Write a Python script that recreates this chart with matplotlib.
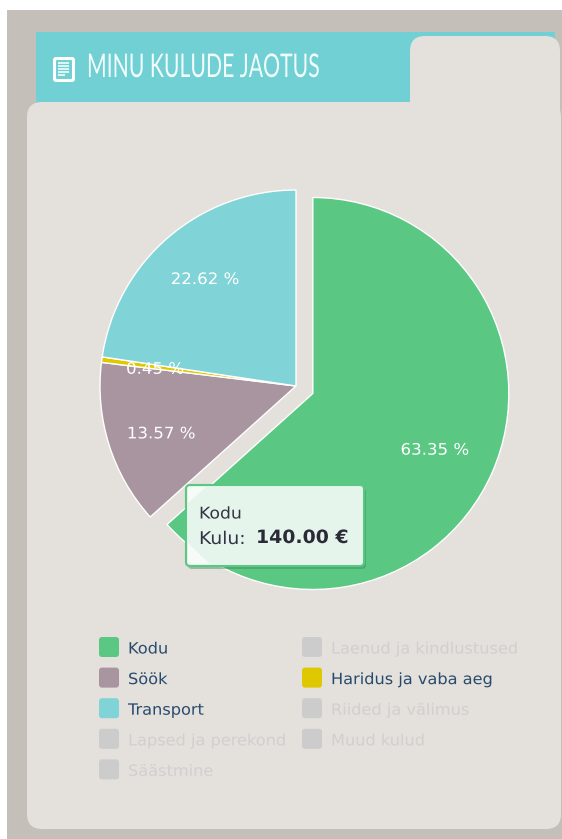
import matplotlib
matplotlib.use("Agg")
import matplotlib.pyplot as plt
from matplotlib.patches import FancyBboxPatch, Rectangle, Polygon
from matplotlib.patheffects import AbstractPathEffect
from matplotlib.transforms import Affine2D

# data (euro)
pie_names = ["Kodu", "Söök", "Haridus ja vaba aeg", "Transport"]
pie_values = [140, 30, 1, 50]
pie_colors = ["#5ac783", "#a895a0", "#e0c800", "#80d3d6"]
pie_explode = [18.4, 0, 0, 0]

legend_col1 = ["Kodu", "Söök", "Transport", "Lapsed ja perekond", "Säästmine"]
legend_col2 = ["Laenud ja kindlustused", "Haridus ja vaba aeg", "Riided ja välimus", "Muud kulud"]
legend_colors = {"Kodu": "#5ac783", "Söök": "#a895a0", "Transport": "#80d3d6", "Haridus ja vaba aeg": "#e0c800"}

W, H = 562, 839
BG_DARK = "#c4bfb9"
BG_PANEL = "#e4e0db"
TEAL = "#71d0d4"


class Stretch(AbstractPathEffect):
    # squeeze or widen a text sideways around one x position, no condensed font here
    def __init__(self, x0, sx):
        super().__init__()
        self.x0 = x0
        self.sx = sx

    def draw_path(self, renderer, gc, tpath, affine, rgbFace=None):
        t = affine + Affine2D().translate(-self.x0, 0).scale(self.sx, 1).translate(self.x0, 0)
        renderer.draw_path(gc, tpath, t, rgbFace)


def Y(py):
    # picture pixels count from the top
    return H - py


def box(ax, x0, y0, x1, y1, r, z=1, **kw):
    p = FancyBboxPatch((x0 + r, Y(y1) + r), x1 - x0 - 2 * r, y1 - y0 - 2 * r,
                       boxstyle="round,pad=%f,rounding_size=%f" % (r, r), zorder=z, **kw)
    ax.add_patch(p)
    return p


def wide_text(ax, x, py, s, sx, **kw):
    t = ax.text(x, Y(py), s, va="center", ha="left", **kw)
    t.set_path_effects([Stretch(x, sx)])
    return t


fig = plt.figure(figsize=(W / 100, H / 100), dpi=100, facecolor="white")
ax = fig.add_axes([0, 0, 1, 1])
ax.set_xlim(0, W)
ax.set_ylim(0, H)

# page background and panels
ax.add_patch(Rectangle((7, 0), W - 7, Y(10), fc=BG_DARK, ec="none", zorder=0))
ax.add_patch(Rectangle((36, Y(103)), 519, 71, fc=TEAL, ec="none", zorder=1))
box(ax, 410, 36, 560, 140, 15, z=2, fc=BG_PANEL, ec="none")
box(ax, 27, 102, 561, 829, 15, z=2, fc=BG_PANEL, ec="none")

# title
title = ax.text(87, Y(68), "MINU KULUDE JAOTUS", family=["Lato", "DejaVu Sans"],
                fontsize=23.5, color="#f2fcfc", va="center", ha="left", zorder=3)
fig.canvas.draw()
title_w = title.get_window_extent().width
title.set_path_effects([Stretch(87, 233 / title_w)])

# document icon
box(ax, 53, 57, 75, 82, 3, z=3, fc="white", ec="none")
box(ax, 56, 60, 72, 79, 1, z=4, fc=TEAL, ec="none")
for py, x1 in zip([63, 66, 69, 72, 75], [69, 69, 69, 69, 65]):
    ax.plot([58, x1], [Y(py), Y(py)], color="white", lw=1.1, zorder=5, solid_capstyle="butt")

# pie
wedges, texts, autotexts = ax.pie(pie_values, explode=pie_explode, colors=pie_colors,
                                  center=(296, Y(386)), radius=196, startangle=90, counterclock=False,
                                  autopct="%.2f %%", pctdistance=0.71, frame=True,
                                  wedgeprops={"edgecolor": "white", "linewidth": 1.0, "zorder": 6})
# small shifts, the original places these labels a little differently from pie()
for t, (dx, dy) in zip(autotexts, [(-5, 0), (-2, -6), (-3, -2), (0, 1)]):
    x, y = t.get_position()
    t.set_position((x + dx, y + dy))
    t.set_color("white")
    t.set_fontsize(11.4)
    t.set_fontweight("medium")
    t.set_zorder(7)
    t.set_path_effects([Stretch(x + dx, 1.05)])

# tooltip
box(ax, 188, 488, 366, 569, 4, z=8, fc="#3c8a5a", ec="none", alpha=0.45)
box(ax, 186, 485, 364, 566, 4, z=9, fc="#e6f5ec", ec="#5ac783", lw=1.5)
ax.add_patch(Polygon([(188, Y(487)), (206, Y(487)), (188, Y(503))], fc="#f6fbf8", ec="none", zorder=10))
ax.add_patch(Polygon([(188, Y(564)), (210, Y(564)), (188, Y(543))], fc="#f6fbf8", ec="none", zorder=10))
wide_text(ax, 199, 514, "Kodu", 1.07, fontsize=11.6, color="#333344", zorder=11)
wide_text(ax, 199, 539, "Kulu:", 1.07, fontsize=12.6, color="#333344", zorder=11)
wide_text(ax, 256, 538, "140.00 €", 1.03, fontsize=13.2, fontweight="bold", color="#2b2b38", zorder=11)

# legend
for col_x, names in [(99, legend_col1), (302, legend_col2)]:
    for i, name in enumerate(names):
        py = 637 + i * 30.6
        on = name in legend_colors
        box(ax, col_x, py, col_x + 20, py + 20, 3, z=3, fc=legend_colors.get(name, "#cccccc"), ec="none")
        wide_text(ax, col_x + 29, py + 12, name, 1.04, fontsize=11.2,
                  color="#274b6d" if on else "#d0d0d0", zorder=3)

ax.set_xlim(0, W)
ax.set_ylim(0, H)
ax.set_aspect("auto")
ax.axis("off")

fig.savefig("out.png", dpi=100, facecolor="white")
